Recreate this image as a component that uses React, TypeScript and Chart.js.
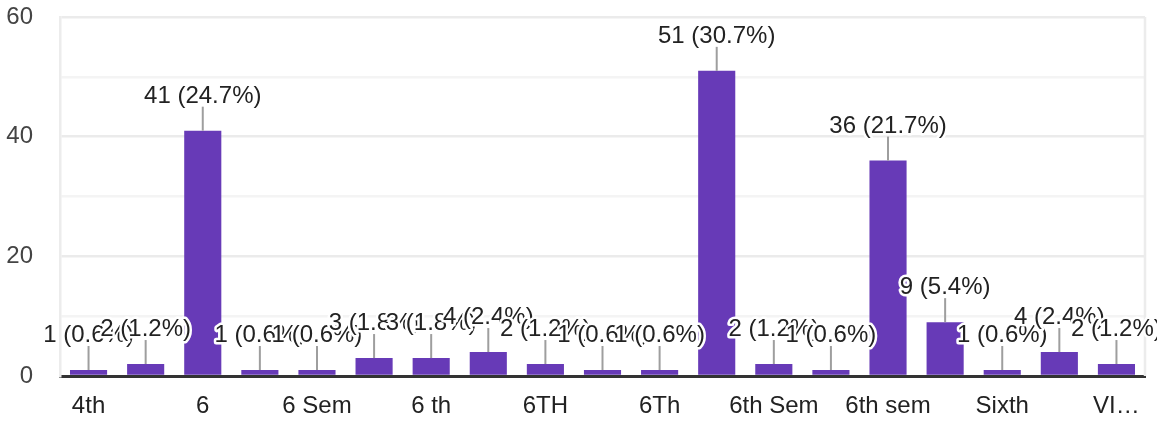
import React, { useEffect, useRef } from "react";
import { Chart, registerables } from "chart.js";

Chart.register(...registerables);

const categories = [
  "4th", "5th", "6", "6 SEM", "6 Sem", "6 sem", "6 th", "6 th sem", "6TH", "6TH SEM",
  "6Th", "6th", "6th Sem", "6th sem.", "6th sem", "6th semester", "Sixth", "Sixth sem", "VI sem",
];
const counts = [1, 2, 41, 1, 1, 3, 3, 4, 2, 1, 1, 51, 2, 1, 36, 9, 1, 4, 2];
const barLabels = [
  "1 (0.6%)", "2 (1.2%)", "41 (24.7%)", "1 (0.6%)", "1 (0.6%)", "3 (1.8%)", "3 (1.8%)",
  "4 (2.4%)", "2 (1.2%)", "1 (0.6%)", "1 (0.6%)", "51 (30.7%)", "2 (1.2%)", "1 (0.6%)",
  "36 (21.7%)", "9 (5.4%)", "1 (0.6%)", "4 (2.4%)", "2 (1.2%)",
];
const xTickLabels = [
  "4th", "", "6", "", "6 Sem", "", "6 th", "", "6TH", "", "6Th", "", "6th Sem", "",
  "6th sem", "", "Sixth", "", "VI…",
];
const yTickLabels = ["0", "20", "40", "60"];

const FONT = "'Liberation Sans', Arial, sans-serif";

const annotPlugin = {
  id: "annot",
  afterDatasetsDraw(chart: any) {
    const ctx = chart.ctx;
    const meta = chart.getDatasetMeta(0);
    const area = chart.chartArea;
    ctx.save();
    ctx.strokeStyle = "#ececec";
    ctx.lineWidth = 2.5;
    ctx.beginPath();
    ctx.moveTo(area.right, area.top);
    ctx.lineTo(area.right, area.bottom);
    ctx.stroke();
    ctx.font = `24px ${FONT}`;
    ctx.textAlign = "center";
    ctx.textBaseline = "alphabetic";
    meta.data.forEach((bar: any, i: number) => {
      const x = bar.x;
      const y = bar.y;
      ctx.strokeStyle = "#9e9e9e";
      ctx.lineWidth = 2;
      ctx.beginPath();
      ctx.moveTo(x, y);
      ctx.lineTo(x, y - 24);
      ctx.stroke();
      ctx.lineJoin = "round";
      ctx.lineWidth = 5;
      ctx.strokeStyle = "#ffffff";
      ctx.strokeText(barLabels[i], x, y - 28);
      ctx.fillStyle = "#222222";
      ctx.fillText(barLabels[i], x, y - 28);
    });
    ctx.restore();
  },
};

export default function App() {
  const ref = useRef<HTMLCanvasElement>(null);
  useEffect(() => {
    if (!ref.current) return;
    const chart = new Chart(ref.current, {
      type: "bar",
      data: {
        labels: categories,
        datasets: [
          {
            data: counts,
            backgroundColor: "#673ab7",
            barPercentage: 0.65,
            categoryPercentage: 1,
          },
        ],
      },
      options: {
        responsive: false,
        animation: false,
        layout: { padding: { top: 17, right: 12, left: 0, bottom: 0 } },
        plugins: { legend: { display: false }, tooltip: { enabled: false } },
        scales: {
          x: {
            grid: { display: false, drawTicks: false },
            border: { color: "#333333", width: 3 },
            ticks: {
              autoSkip: false,
              maxRotation: 0,
              padding: 16,
              color: "#222222",
              font: { family: FONT, size: 24 },
              callback: (_v: any, i: number) => xTickLabels[i],
            },
            afterFit: (s: any) => {
              s.height = 48;
              s.paddingLeft = 0;
              s.paddingRight = 0;
            },
          },
          y: {
            min: 0,
            max: 60,
            grid: {
              drawTicks: false,
              lineWidth: 2.5,
              color: (c: any) => (c.tick && c.tick.value % 20 === 0 ? "#ebebeb" : "#f4f4f4"),
            },
            border: { color: "#ececec", width: 2.5 },
            ticks: {
              stepSize: 10,
              padding: 27,
              color: "#444444",
              font: { family: FONT, size: 24 },
              callback: (v: any) => (yTickLabels.includes(String(v)) ? String(v) : ""),
            },
            afterFit: (s: any) => {
              s.width = 60;
              s.paddingTop = 0;
              s.paddingBottom = 0;
            },
          },
        },
      },
      plugins: [annotPlugin],
    });
    return () => chart.destroy();
  }, []);
  return (
    <div style={{ position: "absolute", left: 0, top: 0, width: 1157, height: 424 }}>
      <canvas ref={ref} width={1157} height={424} />
    </div>
  );
}
